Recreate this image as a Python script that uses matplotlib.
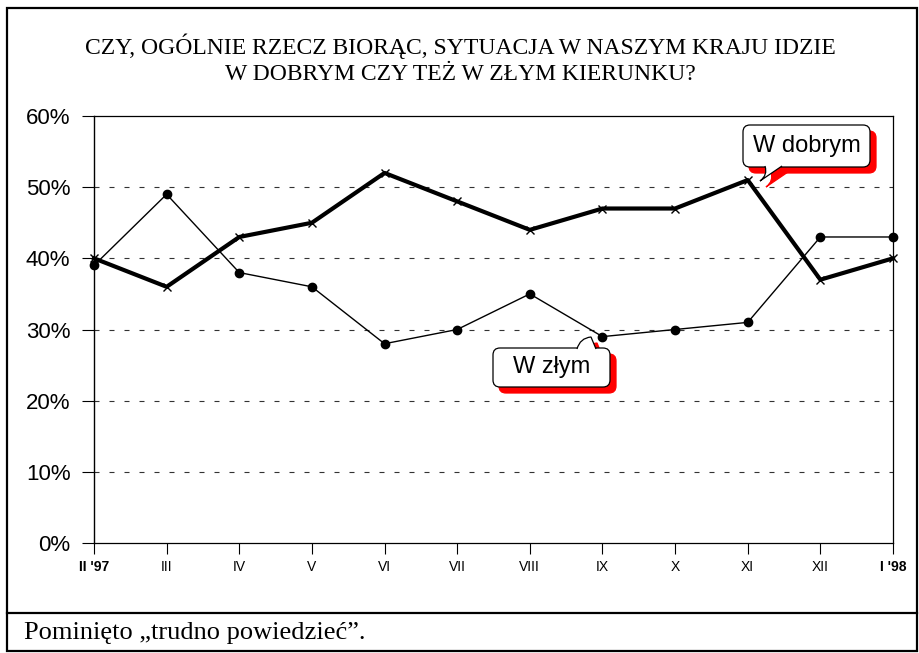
import numpy as np
import matplotlib
matplotlib.use("Agg")
import matplotlib.pyplot as plt
from matplotlib.patches import FancyBboxPatch, PathPatch, Rectangle
from matplotlib.path import Path
from matplotlib.lines import Line2D

# data
months = ["II '97", "III", "IV", "V", "VI", "VII", "VIII", "IX", "X", "XI", "XII", "I '98"]
w_dobrym = [40, 36, 43, 45, 52, 48, 44, 47, 47, 51, 37, 40]
w_zlym = [39, 49, 38, 36, 28, 30, 35, 29, 30, 31, 43, 43]
y_ticks = [0, 10, 20, 30, 40, 50, 60]

title = "CZY, OGÓLNIE RZECZ BIORĄC, SYTUACJA W NASZYM KRAJU IDZIE\nW DOBRYM CZY TEŻ W ZŁYM KIERUNKU?"
note = "Pominięto \u201etrudno powiedzieć\u201d."

W, H = 920, 653
fig = plt.figure(figsize=(W / 100, H / 100), dpi=100)
fig.patch.set_facecolor("white")


def px(x, y):
    """pixel position (from top-left) -> inches for dpi_scale_trans"""
    return x / 100, (H - y) / 100


# outer frame and note separator
frame = Rectangle(px(7, 651), (917 - 7) / 100, (651 - 8) / 100, transform=fig.dpi_scale_trans,
                  fill=False, edgecolor="black", linewidth=1.6)
fig.patches.append(frame)
fig.lines.append(Line2D([7 / W, 917 / W], [1 - 613 / H, 1 - 613 / H], transform=fig.transFigure,
                        color="black", linewidth=1.6))

fig.text(0.5, 1 - 59 / H, title, ha="center", va="center", fontsize=17,
         family="Liberation Serif", linespacing=1.3)
fig.text(24 / W, 1 - 633 / H, note, ha="left", va="center", fontsize=19, family="Liberation Serif")

ax = fig.add_axes([94 / W, 1 - 543 / H, (893 - 94) / W, (543 - 116) / H])
x = np.arange(len(months))

for v in y_ticks[1:-1]:
    ax.axhline(v, color="#333333", linewidth=0.8, linestyle=(0, (4.5, 9)), zorder=1)

ax.plot(x, w_zlym, color="black", linewidth=1.0, marker="o", markersize=6, clip_on=False, zorder=3)
ax.plot(x, w_dobrym, color="black", linewidth=3.0, marker="x", markersize=6, markeredgewidth=1.0,
        clip_on=False, zorder=4)

ax.set_xlim(0, len(months) - 1)
ax.set_ylim(0, 60)
ax.set_yticks(y_ticks)
ax.set_yticklabels([f"{v}%" for v in y_ticks], family="Liberation Sans", fontsize=16)
ax.set_xticks(x)
ax.set_xticklabels(months, family="Liberation Sans", fontsize=10)
for i, lab in enumerate(ax.get_xticklabels()):
    if i in (0, len(months) - 1):
        lab.set_fontweight("bold")
ax.tick_params(axis="y", direction="out", length=9, width=0.8, pad=8)
ax.tick_params(axis="x", direction="out", length=8, width=0.8, pad=4)
for s in ax.spines.values():
    s.set_linewidth(0.9)
ax.spines["left"].set_linewidth(1.0)


def callout(text, x0, y0, x1, y1, tail, off=6, fs=17):
    # tail = (base_left, tip, ctrl, base_right) in pixels
    for dx, fc, ec, z in ((off, "red", "red", 10), (0, "white", "black", 11)):
        box = FancyBboxPatch(px(x0 + dx, y1 + dx), (x1 - x0) / 100, (y1 - y0) / 100,
                             boxstyle="round,pad=0,rounding_size=0.07", transform=fig.dpi_scale_trans,
                             facecolor=fc, edgecolor=ec, linewidth=0.9, zorder=z)
        fig.patches.append(box)
        bl, tip, c, br = tail
        verts = [px(bl[0] + dx, bl[1] + dx), px(c[0] + dx, c[1] + dx), px(tip[0] + dx, tip[1] + dx),
                 px(br[0] + dx, br[1] + dx)]
        path = Path(verts, [Path.MOVETO, Path.CURVE3, Path.CURVE3, Path.LINETO])
        fig.patches.append(PathPatch(path, transform=fig.dpi_scale_trans, facecolor=fc,
                                     edgecolor=ec, linewidth=0.9, zorder=z + 0.5))
    fig.text(((x0 + x1) / 2) / W, 1 - ((y0 + y1) / 2) / H, text, ha="center", va="center",
             fontsize=fs, family="Liberation Sans", zorder=13)


callout("W dobrym", 743, 125, 870, 167,
        ((765, 166), (760, 181), (768, 175), (782, 166)))
callout("W złym", 493, 348, 610, 387,
        ((577, 349), (591, 337), (580, 338), (596, 349)))

fig.savefig("out.png", dpi=100, facecolor="white")
